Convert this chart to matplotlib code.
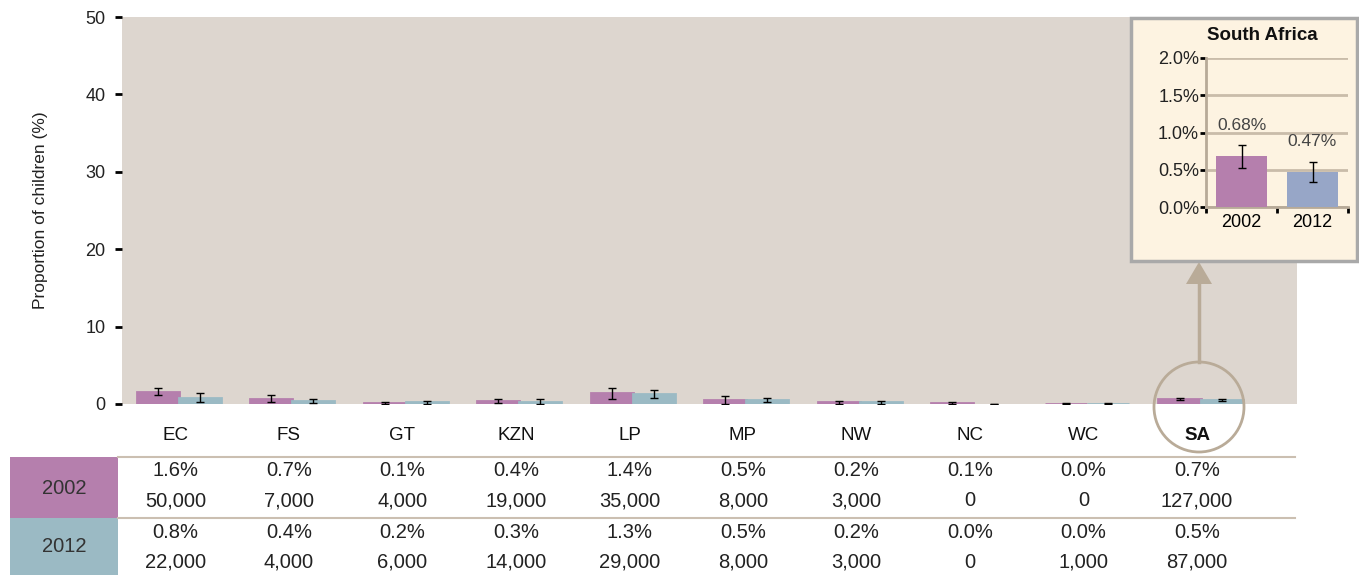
import matplotlib
matplotlib.use("Agg")
import matplotlib.pyplot as plt
from matplotlib.patches import Rectangle, Circle, Polygon
from matplotlib.lines import Line2D
from matplotlib.transforms import Affine2D, blended_transform_factory

# -- data
provinces = ["EC", "FS", "GT", "KZN", "LP", "MP", "NW", "NC", "WC", "SA"]
years = ["2002", "2012"]
pct_2002 = [1.6, 0.7, 0.1, 0.4, 1.4, 0.5, 0.2, 0.1, 0.04, 0.68]
pct_2012 = [0.8, 0.4, 0.2, 0.3, 1.3, 0.5, 0.2, 0.0, 0.04, 0.47]
err_2002 = [0.5, 0.45, 0.15, 0.25, 0.7, 0.55, 0.15, 0.15, 0.05, 0.15]
err_2012 = [0.6, 0.3, 0.15, 0.3, 0.5, 0.3, 0.15, 0.05, 0.05, 0.135]
count_2002 = [50000, 7000, 4000, 19000, 35000, 8000, 3000, 0, 0, 127000]
count_2012 = [22000, 4000, 6000, 14000, 29000, 8000, 3000, 0, 1000, 87000]
y_ticks = [0, 10, 20, 30, 40, 50]
inset_ticks = [0.0, 0.5, 1.0, 1.5, 2.0]

C2002 = "#b57fad"
C2012 = "#9bbac4"
C2012_INSET = "#97a6c7"
TAN = "#b9ab98"
FONT = ["Liberation Sans", "DejaVu Sans"]

W, H = 1359, 575
fig = plt.figure(figsize=(W / 100, H / 100), dpi=100)
# pixel space measured from top-left corner
px = Affine2D().scale(1 / W, -1 / H).translate(0, 1) + fig.transFigure


def fig_box(x0, y0, x1, y1):
    return [x0 / W, 1 - y1 / H, (x1 - x0) / W, (y1 - y0) / H]


# -- main chart
ax = fig.add_axes(fig_box(122, 17, 1297, 404))
ax.set_facecolor("#ddd6cf")
for s in ax.spines.values():
    s.set_visible(False)

x = list(range(len(provinces)))
bw = 0.37
ekw = dict(ecolor="black", elinewidth=1, capsize=3, capthick=1)
ax.bar([i - bw / 2 for i in x], pct_2002, bw, color=C2002, edgecolor=C2002,
       linewidth=2, yerr=err_2002, error_kw=ekw)
ax.bar([i + bw / 2 for i in x], pct_2012, bw, color=C2012,
       edgecolor=[C2012 if v > 0 else "none" for v in pct_2012],
       linewidth=2, yerr=err_2012, error_kw=ekw)
ax.set_xlim(-0.5, 9.85)
ax.set_ylim(0, 50)
ax.set_xticks([])
ax.set_yticks(y_ticks)
ax.tick_params(axis="y", length=5, width=2, color="black", pad=7,
               labelsize=13, labelcolor="#222222")
for lab in ax.get_yticklabels():
    lab.set_family(FONT)
ax.set_ylabel("Proportion of children (%)", fontsize=12.5, family=FONT,
              color="#222222", labelpad=27)

# -- category labels and table below the chart (text sits a touch left of the bars)
bt = blended_transform_factory(ax.transData, px)
cell = dict(transform=bt, ha="center", va="center", fontsize=14.5, family=FONT,
            color="#222222", clip_on=False)
for i, p in enumerate(provinces):
    xc = i - 0.03
    ax.text(xc, 436, p, transform=bt, ha="center", va="center", fontsize=13.5,
            family=FONT, color="#111111",
            fontweight="bold" if p == "SA" else "normal", clip_on=False)
    ax.text(xc, 470, f"{pct_2002[i]:.1f}%", **cell)
    ax.text(xc, 501, f"{count_2002[i]:,}", **cell)
    ax.text(xc, 532, f"{pct_2012[i]:.1f}%", **cell)
    ax.text(xc, 562, f"{count_2012[i]:,}", **cell)

fig.add_artist(Rectangle((10, 457), 108, 61, transform=px, facecolor=C2002, edgecolor="none"))
fig.add_artist(Rectangle((10, 518), 108, 57, transform=px, facecolor=C2012, edgecolor="none"))
fig.text(64 / W, 1 - 488 / H, years[0], ha="center", va="center", fontsize=14.5,
         family=FONT, color="#333333")
fig.text(64 / W, 1 - 547 / H, years[1], ha="center", va="center", fontsize=14.5,
         family=FONT, color="#333333")
for yy in (457, 518):
    fig.add_artist(Line2D([118, 1295], [yy, yy], transform=px, color="#cbbfb1", lw=1.5))

# -- highlight circle + arrow to the inset
fig.add_artist(Circle((1199, 407), 45, transform=px, facecolor="none",
                      edgecolor=TAN, lw=2, zorder=4))
fig.add_artist(Line2D([1199, 1199], [362, 280], transform=px, color=TAN, lw=2.5, zorder=4))
fig.add_artist(Polygon([(1186, 284), (1212, 284), (1199, 262)], closed=True,
                       transform=px, facecolor=TAN, edgecolor="none", zorder=4))

# -- South Africa inset
fig.add_artist(Rectangle((1131, 18), 226, 243, transform=px, facecolor="#fdf3e1",
                         edgecolor="#a9a9a9", lw=2.5, zorder=5))
fig.text(1262 / W, 1 - 36 / H, "South Africa", ha="center", va="center",
         fontsize=13.5, fontweight="bold", family=FONT, color="#111111", zorder=7)

ia = fig.add_axes(fig_box(1206, 58, 1348, 207), zorder=6)
ia.patch.set_visible(False)
sa_vals = [pct_2002[-1], pct_2012[-1]]
sa_errs = [err_2002[-1], err_2012[-1]]
ia.set_ylim(0, 2.0)
ia.set_xlim(0, 2)
ia.set_yticks(inset_ticks)
ia.set_yticklabels([f"{t:.1f}%" for t in inset_ticks])
ia.yaxis.grid(True, color="#c9bca9", lw=2)
ia.set_axisbelow(True)
ia.bar([0.5, 1.5], sa_vals, 0.73, color=[C2002, C2012_INSET], yerr=sa_errs,
       error_kw=dict(ecolor="black", elinewidth=1, capsize=3, capthick=1), zorder=3)
for xi, v, e in zip([0.5, 1.5], sa_vals, sa_errs):
    ia.text(xi, v + e + 0.27, f"{v:.2f}%", ha="center", va="center", fontsize=12.5,
            family=FONT, color="#444444")
ia.set_xticks([0, 1, 2])
ia.set_xticklabels([])
ia.set_xticks([0.5, 1.5], minor=True)
ia.set_xticklabels(years, minor=True)
ia.tick_params(axis="x", which="minor", length=0, labelsize=13, pad=5)
ia.tick_params(axis="x", which="major", length=4, width=2, color="black")
ia.tick_params(axis="y", length=4, width=2, color="black", labelsize=13, pad=1,
               labelcolor="#222222")
for lab in ia.get_yticklabels() + ia.get_xticklabels(minor=True):
    lab.set_family(FONT)
for name, s in ia.spines.items():
    if name in ("top", "right"):
        s.set_visible(False)
    else:
        s.set_color("#b7aa98")
        s.set_linewidth(2)

fig.savefig("out.png", dpi=100)
